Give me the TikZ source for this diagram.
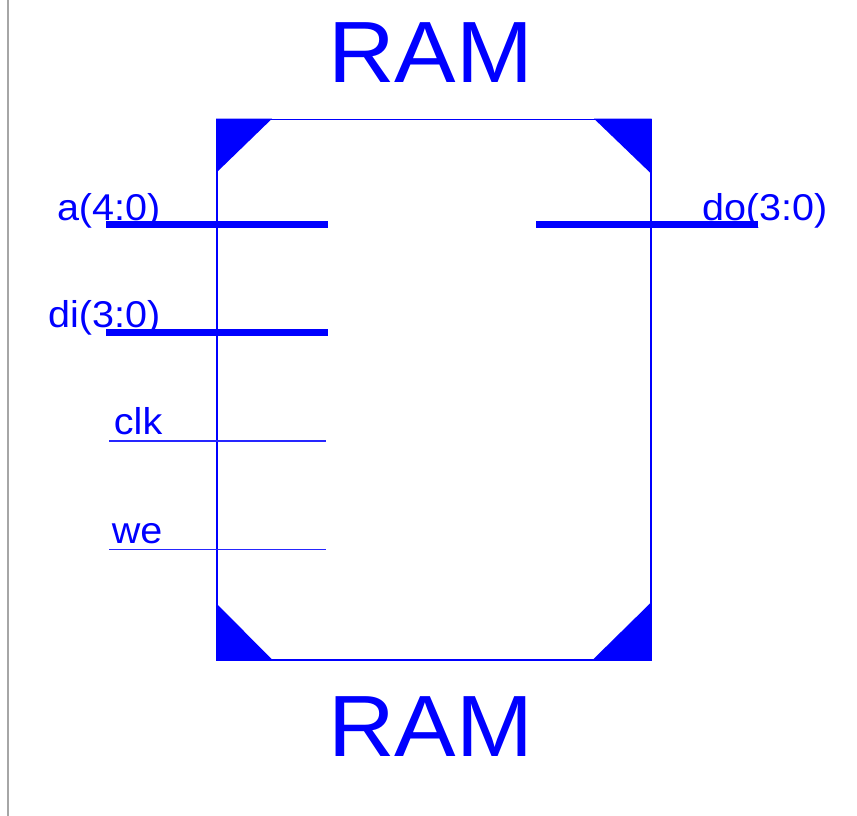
\documentclass[tikz,border=0pt]{standalone}
\usepackage{fontspec}
\setmainfont{Liberation Sans}
\newfontfamily\widefont[FakeStretch=1.06]{Liberation Sans}
\definecolor{sym}{RGB}{0,0,255}
\tikzset{
  thin wire/.style={draw=sym!85,line width=1.5pt},
  bus wire/.style={draw=sym,line width=7pt},
  corner/.style={fill=sym,draw=none},
  pinlabel/.style={text=sym,font=\widefont\fontsize{37.3}{37.3}\selectfont,inner sep=0pt,anchor=base east},
  title/.style={text=sym,font=\widefont\fontsize{87}{87}\selectfont,inner sep=0pt,anchor=base},
}
\begin{document}
\begin{tikzpicture}[x=1pt,y=-1pt]
\useasboundingbox (0,0) rectangle (857,816);
\fill[white] (0,0) rectangle (857,816);
\coordinate (g1) at (7.5,0); \coordinate (g2) at (7.5,816);
\draw[draw=black!35,line width=2pt] (g1) -- (g2);
% corners
\fill[corner] (216,118.7) -- (272,118.7) -- (216,173) -- cycle;
\fill[corner] (651.5,118.7) -- (594,118.7) -- (651.5,174) -- cycle;
\fill[corner] (216,603) -- (216,660.5) -- (273,660.5) -- cycle;
\fill[corner] (651.5,602) -- (651.5,660.5) -- (592,660.5) -- cycle;
% body
\node[draw=sym,line width=1.5pt,minimum width=434pt,minimum height=540.5pt,inner sep=0pt,outer sep=0pt] (body) at (433.8,389.5) {};
% wires
\coordinate (a1) at (106,224.5); \coordinate (a2) at (327.5,224.5);
\coordinate (d1) at (106,332); \coordinate (d2) at (327.5,332);
\coordinate (c1) at (109,441); \coordinate (c2) at (326,441);
\coordinate (w1) at (109,549.5); \coordinate (w2) at (326,549.5);
\coordinate (o1) at (536,224.5); \coordinate (o2) at (758,224.5);
\draw[bus wire] (a1) -- (a2);
\draw[bus wire] (d1) -- (d2);
\draw[bus wire] (o1) -- (o2);
\draw[thin wire] (c1) -- (c2);
\draw[thin wire] (w1) -- (w2);
% labels
\node[pinlabel] (la) at (160.5,220) {a(4:0)};
\node[pinlabel] (ld) at (160.5,327) {di(3:0)};
\node[pinlabel] (lc) at (162.5,434.5) {clk};
\node[pinlabel] (lw) at (162.5,543) {we};
\node[pinlabel] (lo) at (827.5,220) {do(3:0)};
\node[title] (t1) at (430.5,82.5) {RAM};
\node[title] (t2) at (430.5,756.5) {RAM};
\end{tikzpicture}
\end{document}
